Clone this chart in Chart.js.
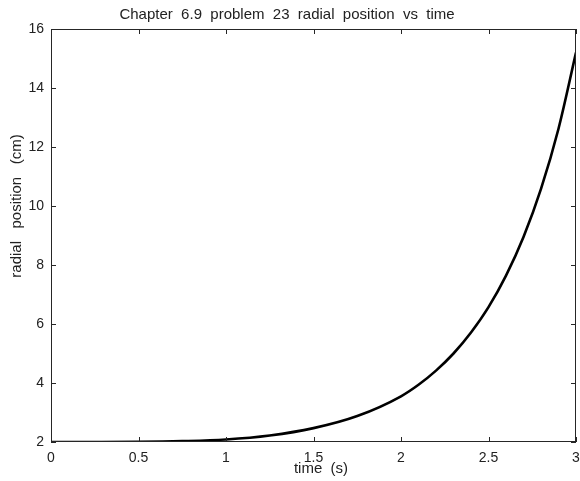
<!DOCTYPE html>
<html>
<head>
<meta charset="utf-8">
<script src="https://cdn.jsdelivr.net/npm/chart.js"></script>
<style>
  body { margin: 0; background: #fff; }
</style>
</head>
<body>
<canvas id="radchart" width="580" height="481"></canvas>
<script>
// time (s) and radial position (cm)
const timeVals = [0, 0.25, 0.5, 0.75, 1.0, 1.25, 1.5, 1.75, 2.0, 2.1, 2.2, 2.3, 2.4, 2.5, 2.6, 2.7, 2.8, 2.9, 3.0];
const radialVals = [2.00, 2.00, 2.005, 2.03, 2.085, 2.22, 2.47, 2.88, 3.55, 3.94, 4.42, 5.0, 5.71, 6.57, 7.64, 8.95, 10.58, 12.62, 15.2];

const xTicks = [0, 0.5, 1, 1.5, 2, 2.5, 3];
const yTicks = [2, 4, 6, 8, 10, 12, 14, 16];

const chartTitle = 'Chapter  6.9  problem  23  radial  position  vs  time';
const xLabel = 'time  (s)';
const yLabel = 'radial   position   (cm)';

const fontFamily = '"Liberation Sans", Arial, sans-serif';

// matlab style box with ticks pointing inwards, plus title and axis labels
const boxPlugin = {
  id: 'box',
  afterDraw(chart) {
    const c = chart.ctx;
    const a = chart.chartArea;
    const xs = chart.scales.x;
    const ys = chart.scales.y;
    c.save();
    c.strokeStyle = '#262626';
    c.lineWidth = 1;
    c.strokeRect(a.left + 0.5, a.top + 0.5, a.right - a.left - 1, a.bottom - a.top - 1);
    c.beginPath();
    xTicks.forEach(v => {
      const px = Math.round(xs.getPixelForValue(v)) + 0.5;
      c.moveTo(px, a.bottom); c.lineTo(px, a.bottom - 5);
      c.moveTo(px, a.top); c.lineTo(px, a.top + 5);
    });
    yTicks.forEach(v => {
      const py = Math.round(ys.getPixelForValue(v)) + 0.5;
      c.moveTo(a.left, py); c.lineTo(a.left + 5, py);
      c.moveTo(a.right, py); c.lineTo(a.right - 5, py);
    });
    c.stroke();

    c.fillStyle = '#222';
    c.font = '15px ' + fontFamily;
    c.textAlign = 'center';
    c.textBaseline = 'middle';
    c.fillText(chartTitle, 287, 15);
    c.fillText(xLabel, 321, 469);
    c.translate(17, 206);
    c.rotate(-Math.PI / 2);
    c.fillText(yLabel, 0, 0);
    c.restore();
  }
};

new Chart(document.getElementById('radchart'), {
  type: 'line',
  data: {
    datasets: [{
      data: timeVals.map((t, i) => ({ x: t, y: radialVals[i] })),
      borderColor: '#000',
      borderWidth: 2.6,
      pointRadius: 0,
      cubicInterpolationMode: 'monotone',
      fill: false
    }]
  },
  options: {
    responsive: false,
    animation: false,
    layout: { autoPadding: false, padding: { top: 29, right: 4, left: 0, bottom: 0 } },
    plugins: {
      legend: { display: false },
      tooltip: { enabled: false },
      title: { display: false }
    },
    scales: {
      x: {
        type: 'linear',
        min: 0,
        max: 3,
        afterFit: s => { s.height = 39; s.paddingLeft = 0; s.paddingRight = 0; },
        afterBuildTicks: s => { s.ticks = xTicks.map(v => ({ value: v })); },
        grid: { display: false, drawTicks: false },
        border: { display: false },
        ticks: { padding: 8, color: '#222', maxRotation: 0, font: { family: fontFamily, size: 14 },
                 callback: v => String(v) }
      },
      y: {
        min: 2,
        max: 16,
        afterFit: s => { s.width = 51; s.paddingTop = 0; s.paddingBottom = 0; },
        afterBuildTicks: s => { s.ticks = yTicks.map(v => ({ value: v })); },
        grid: { display: false, drawTicks: false },
        border: { display: false },
        ticks: { padding: 7, color: '#222', font: { family: fontFamily, size: 14 },
                 callback: v => String(v) }
      }
    }
  },
  plugins: [boxPlugin]
});
</script>
</body>
</html>
